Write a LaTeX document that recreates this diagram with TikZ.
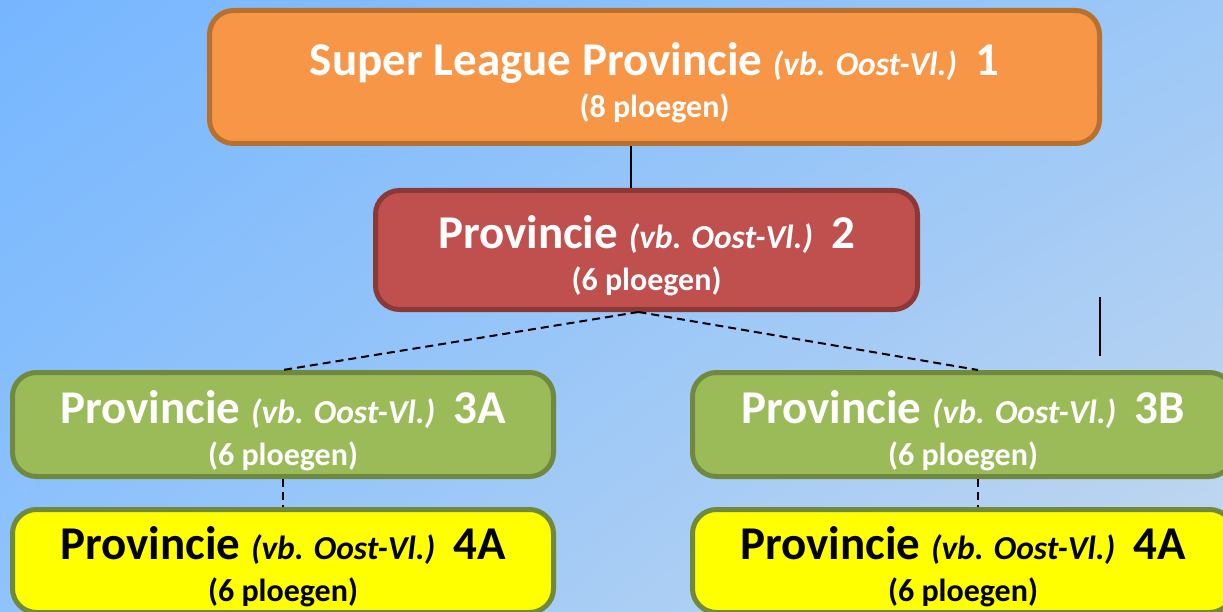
\documentclass[tikz,border=0pt]{standalone}
\usepackage{fontspec}
\usetikzlibrary{shadings}
\setmainfont{Carlito}
\definecolor{bgUL}{HTML}{76B6FF}
\definecolor{bgUR}{HTML}{9DC8F7}
\definecolor{bgLL}{HTML}{8FC3FB}
\definecolor{bgLR}{HTML}{C4D8EE}
\definecolor{oranjeVul}{HTML}{F79646}
\definecolor{oranjeRand}{HTML}{B8702F}
\definecolor{roodVul}{HTML}{C0504D}
\definecolor{roodRand}{HTML}{8C3836}
\definecolor{groenVul}{HTML}{9BBB59}
\definecolor{groenRand}{HTML}{71893F}
\definecolor{geelVul}{HTML}{FFFF00}
\newcommand\vbtag{{\itshape\fontsize{33.5}{42}\selectfont(vb. Oost-Vl.)}}
\newcommand\ploegen[1]{{\fontsize{32}{42}\selectfont(#1 ploegen)}\rule[-8pt]{0pt}{8pt}}
\newcommand\regel{\rule{0pt}{47pt}}

\begin{document}
\begin{tikzpicture}[x=1pt,y=-1pt,
    klasse/.style={rectangle, rounded corners=24pt, line width=5pt, inner sep=0pt,
        align=center, font=\bfseries\fontsize{47}{42}\selectfont},
    oranje/.style={klasse, fill=oranjeVul, draw=oranjeRand, text=white,
        minimum width=890pt, minimum height=133pt},
    rood/.style={klasse, fill=roodVul, draw=roodRand, text=white,
        minimum width=542pt, minimum height=119pt},
    groen/.style={klasse, fill=groenVul, draw=groenRand, text=white,
        minimum width=541pt, minimum height=104pt},
    geel/.style={klasse, fill=geelVul, draw=groenRand, text=black,
        minimum width=541pt, minimum height=103pt},
    verbinding/.style={line width=2pt, black},
    stippel/.style={line width=2pt, black, dash pattern=on 8pt off 5pt}]
    \useasboundingbox (0,0) rectangle (1223,612);
    \shade[upper left=bgUL, upper right=bgUR, lower left=bgLL, lower right=bgLR]
        (0,0) rectangle (1223,612);
    \clip (0,0) rectangle (1223,612);
    % klassen
    \node[oranje] (p1) at (654.5,77) {\regel Super League Provincie \vbtag\hspace{4pt} 1\\ \ploegen{8}};
    \node[rood] (p2) at (646.5,250) {\regel Provincie \vbtag\hspace{4pt} 2\\ \ploegen{6}};
    \node[groen] (p3a) at (283,424.5) {\regel Provincie \vbtag\hspace{4pt} 3A\\ \ploegen{6}};
    \node[groen] (p3b) at (963,424.5) {\regel Provincie \vbtag\hspace{4pt} 3B\\ \ploegen{6}};
    \node[geel] (p4a) at (283,561) {\regel Provincie \vbtag\hspace{4pt} 4A\\ \ploegen{6}};
    \node[geel] (p4b) at (963,561) {\regel Provincie \vbtag\hspace{4pt} 4A\\ \ploegen{6}};
    % verbindingen
    \coordinate (c1) at (631,0);
    \draw[verbinding] (c1 |- p1.south) -- (c1 |- p2.north);
    \draw[stippel] ([xshift=-8pt]p2.south) -- (p3a.north);
    \draw[stippel] ([xshift=-8pt]p2.south) -- ([xshift=15pt]p3b.north);
    \draw[stippel] (p3a.south) -- (p4a.north);
    \draw[stippel] ([xshift=15pt]p3b.south) -- ([xshift=15pt]p4b.north);
    \coordinate (s1) at (1100,297);
    \coordinate (s2) at (1100,356);
    \draw[verbinding] (s1) -- (s2);
\end{tikzpicture}
\end{document}
